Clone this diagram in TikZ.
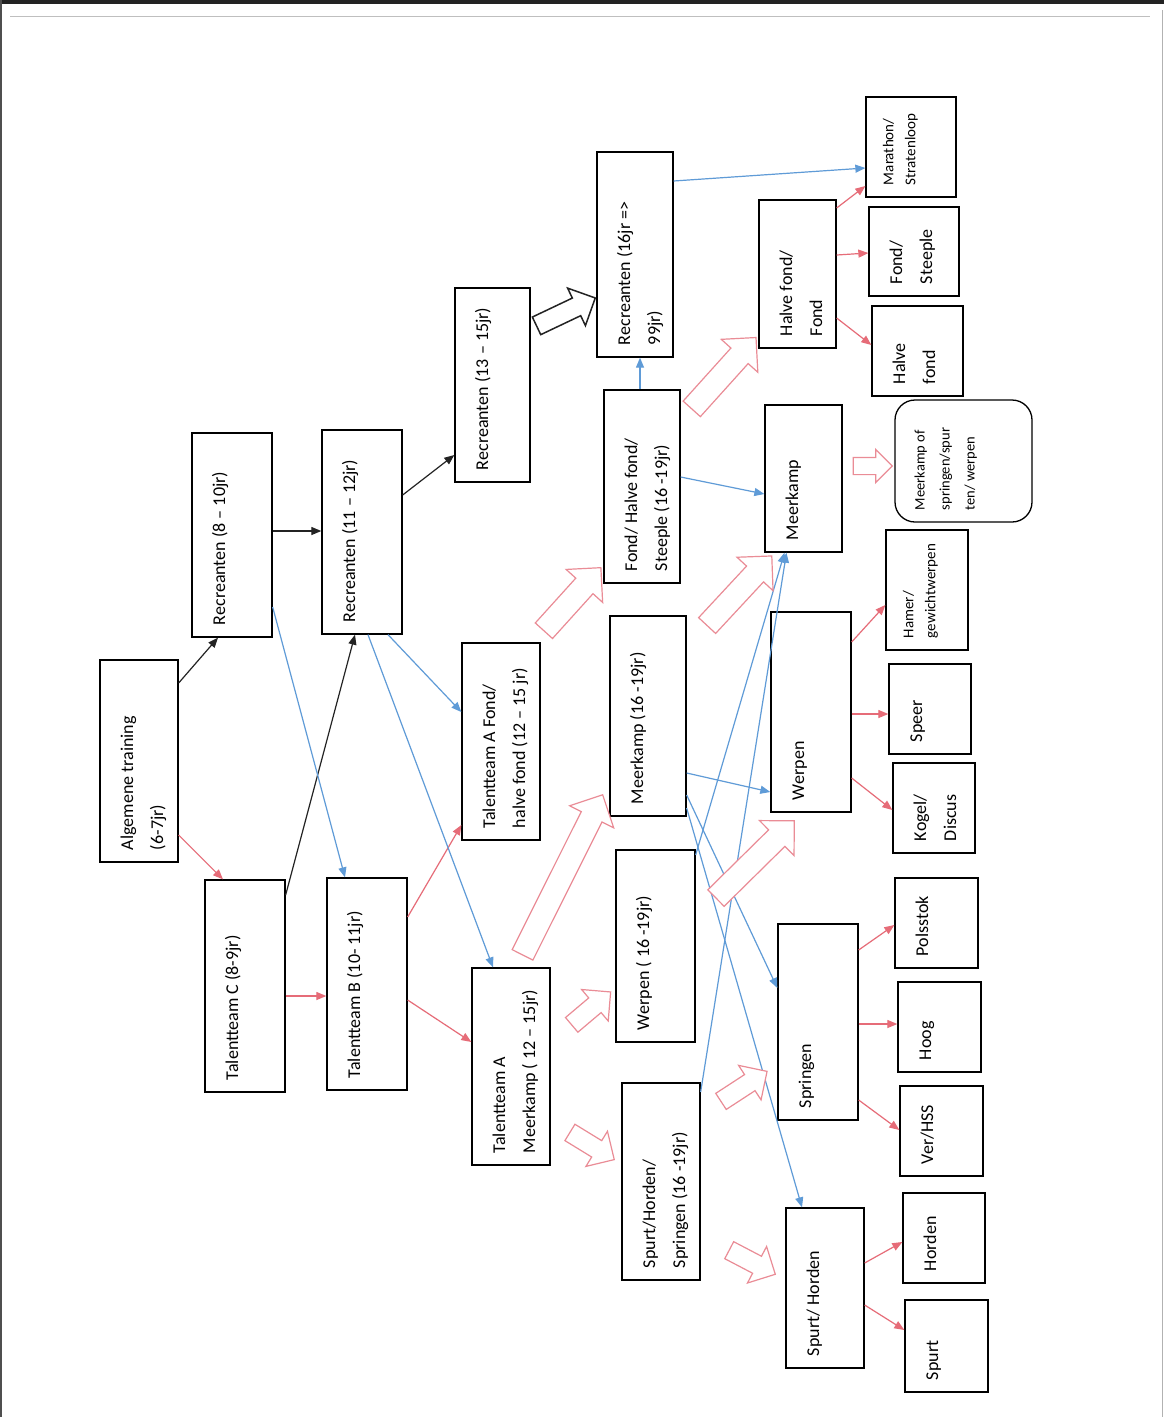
\documentclass[tikz,border=0pt]{standalone}
\usepackage{fontspec}
\setmainfont{Carlito}
\usetikzlibrary{arrows.meta,shapes.arrows}
\definecolor{pk}{RGB}{230,108,120}
\definecolor{pkl}{RGB}{234,140,150}
\definecolor{bl}{RGB}{95,155,215}
\definecolor{dk}{RGB}{35,35,35}
\newcommand\mkbox[7][]{\node[box,#1] (#2) at (#3,#4) {\rotatebox{90}{\parbox[c][\dimexpr #6pt-24pt\relax][t]{\dimexpr #5pt-24pt\relax}{\begin{tabular}[t]{@{}l@{}}#7\end{tabular}}}};}
\tikzset{
  box/.style={draw=black, line width=1.3pt, rectangle, inner sep=12pt, font=\fontsize{18}{30}\selectfont},
  smallbox/.style={font=\fontsize{15}{22}\selectfont},
  tinybox/.style={font=\fontsize{14.5}{25}\selectfont, rounded corners=20pt},
  cblack/.style={draw=dk, line width=1.2pt, -{Triangle[length=10pt,width=8pt]}},
  cred/.style={draw=pk, line width=1.2pt, -{Triangle[length=10pt,width=8pt]}},
  cblue/.style={draw=bl, line width=1.2pt, -{Triangle[length=10pt,width=8pt]}},
  hol/.style n args={3}{shape=single arrow, draw=pkl, line width=1.2pt, fill=white,
    inner sep=#1, single arrow head extend=#2, single arrow head indent=0pt,
    minimum width=0pt, minimum height=#3},
}
\begin{document}
\begin{tikzpicture}[x=1pt,y=-1pt]
\useasboundingbox (0,0) rectangle (1164,1417);
\fill[white] (0,0) rectangle (1164,1417);
% page edges of the scan
\draw[dk, line width=4pt] (0,2) -- (1164,2);
\draw[dk!80, line width=2pt] (1,0) -- (1,1417);
\draw[black!25, line width=0.6pt] (10,16) -- (1150,16);
\draw[black!30, line width=0.8pt] (1162,10) -- (1162,1417);

% boxes
\mkbox{alg}{139}{761}{202}{78}{Algemene training\\(6-7jr)}
\mkbox{r8}{232}{535}{204}{80}{Recreanten (8 – 10jr)}
\mkbox{r11}{362}{532}{204}{80}{Recreanten (11 – 12jr)}
\mkbox{r13}{492.5}{385}{194}{75}{Recreanten (13 – 15jr)}
\mkbox{r16}{635}{254.5}{205}{76}{Recreanten (16jr =>\\99jr)}
\mkbox{tc}{245}{986}{212}{80}{Talentteam C (8-9jr)}
\mkbox{tb}{367}{984}{212}{80}{Talentteam B (10- 11jr)}
\mkbox{taf}{501}{741.5}{197}{78}{Talentteam A Fond/\\halve fond (12 – 15 jr)}
\mkbox{tam}{511}{1066.5}{197}{78}{Talentteam A\\Meerkamp ( 12 – 15jr)}
\mkbox{fhs}{642}{486.5}{193}{76}{Fond/ Halve fond/\\Steeple (16 -19jr)}
\mkbox{mks}{648}{716}{200}{76}{Meerkamp (16 -19jr)}
\mkbox{wps}{655.5}{946}{192}{79}{Werpen ( 16 -19jr)}
\mkbox{shs}{661}{1181.5}{197}{78}{Spurt/Horden/\\Springen (16 -19jr)}
\mkbox{hff}{797.5}{274}{148}{77}{Halve fond/\\Fond}
\mkbox{mk}{803.5}{478.5}{147}{77}{Meerkamp}
\mkbox{wp}{811}{712}{200}{80}{Werpen}
\mkbox{sp}{818}{1022}{196}{80}{Springen}
\mkbox{sh}{825}{1288}{160}{78}{Spurt/ Horden}
\mkbox[smallbox]{mar}{911}{147}{100}{90}{Marathon/\\Stratenloop}
\mkbox{fs}{914}{251.5}{89}{90}{Fond/\\Steeple}
\mkbox{hf}{917.5}{351}{90}{91}{Halve\\fond}
\mkbox[tinybox]{mko}{963.5}{461}{122}{137}{Meerkamp of\\springen/spur\\ten/ werpen}
\mkbox[smallbox]{ham}{927}{590}{120}{82}{Hamer/\\gewichtwerpen}
\mkbox{spe}{930}{709}{90}{82}{Speer}
\mkbox{kog}{934}{808}{90}{82}{Kogel/\\Discus}
\mkbox{pol}{936.5}{923}{90}{83}{Polsstok}
\mkbox{hoo}{939.5}{1027}{90}{83}{Hoog}
\mkbox{ver}{941.5}{1131}{90}{83}{Ver/HSS}
\mkbox{hor}{944}{1238}{90}{82}{Horden}
\mkbox{spu}{946.5}{1346}{92}{83}{Spurt}

% black connectors
\draw[cblack] ([yshift=78pt]alg.east) -- ([xshift=-14pt]r8.south);
\draw[cblack] ([yshift=4pt]r8.east) -- ([yshift=1pt]r11.west);
\draw[cblack] ([yshift=91pt]tc.east) -- ([xshift=-7pt]r11.south);
\draw[cblack] ([yshift=37pt]r11.east) -- ([yshift=-70pt]r13.west);

% red connectors
\draw[cred] ([yshift=-74pt]alg.east) -- ([xshift=-22pt]tc.north);
\draw[cred] ([yshift=-10pt]tc.east) -- ([yshift=-12pt]tb.west);
\draw[cred] ([yshift=67pt]tb.east) -- ([yshift=-83.5pt]taf.west);
\draw[cred] ([yshift=-16pt]tb.east) -- ([yshift=24.5pt]tam.west);
\draw[cred] ([yshift=66pt]hff.east) -- ([yshift=-39pt]mar.west);
\draw[cred] ([yshift=19pt]hff.east) -- ([yshift=-1.5pt]fs.west);
\draw[cred] ([yshift=-44pt]hff.east) -- ([yshift=6pt]hf.west);
\draw[cred] ([yshift=70pt]wp.east) -- ([yshift=-15pt]ham.west);
\draw[cred] ([yshift=-2pt]wp.east) -- ([yshift=-5pt]spe.west);
\draw[cred] ([yshift=-66pt]wp.east) -- ([yshift=-2pt]kog.west);
\draw[cred] ([yshift=72pt]sp.east) -- ([yshift=-2pt]pol.west);
\draw[cred] ([yshift=-2pt]sp.east) -- ([yshift=3pt]hoo.west);
\draw[cred] ([yshift=-78pt]sp.east) -- ([yshift=1pt]ver.west);
\draw[cred] ([yshift=25pt]sh.east) -- ([yshift=-4pt]hor.west);
\draw[cred] ([yshift=-17pt]sh.east) -- ([yshift=16pt]spu.west);

% blue connectors
\draw[cblue] ([yshift=-72pt]r8.east) -- ([xshift=-22pt]tb.north);
\draw[cblue] ([xshift=26pt]r11.south) -- ([yshift=29.5pt]taf.west);
\draw[cblue] ([xshift=6pt]r11.south) -- ([xshift=-18pt]tam.north);
\draw[cblue] ([xshift=-2pt]fhs.north) -- ([xshift=5pt]r16.south);
\draw[cblue] ([yshift=73.5pt]r16.east) -- ([yshift=-21pt]mar.west);
\draw[cblue] ([yshift=9.5pt]fhs.east) -- ([yshift=-15.5pt]mk.west);
\draw[cblue] ([yshift=-57pt]mks.east) -- ([yshift=-80pt]wp.west);
\draw[cblue] ([yshift=-79pt]mks.east) -- ([yshift=34pt]sp.west);
\draw[cblue] ([yshift=-92pt]mks.east) -- ([xshift=-23pt]sh.north);
\draw[cblue] ([yshift=91pt]wps.east) -- ([xshift=-19pt]mk.south);
\draw[cblue] ([yshift=89.5pt]shs.east) -- ([xshift=-17pt]mk.south);

% hollow block arrows
\node[hol={11pt}{13pt}{85pt}, rotate=47.9] (ha1) at (568.5,603.5) {};
\node[hol={11pt}{13pt}{179pt}, rotate=63.4] (ha2) at (560,880) {};
\node[hol={9pt}{11pt}{51pt}, rotate=40.2] (ha3) at (587.5,1011.5) {};
\node[hol={9pt}{11pt}{52pt}, rotate=-31.5] (ha4) at (588,1143.5) {};
\node[hol={11pt}{13pt}{96pt}, rotate=48] (ha5) at (720,377.5) {};
\node[hol={11pt}{13pt}{95pt}, rotate=47.1] (ha6) at (735.5,595) {};
\node[hol={11pt}{13pt}{110pt}, rotate=44.6] (ha7) at (751,863.5) {};
\node[hol={9pt}{11pt}{55pt}, rotate=33.1] (ha8) at (740,1089) {};
\node[hol={9pt}{11pt}{52pt}, rotate=-27.6] (ha9) at (748,1260) {};
\node[hol={8pt}{8pt}{39pt}] (ha10) at (868.5,466) {};
\node[hol={9pt}{11pt}{65pt}{}, rotate=25.4, draw=dk, line width=1.5pt] (ha11) at (561.5,314) {};
\end{tikzpicture}
\end{document}
